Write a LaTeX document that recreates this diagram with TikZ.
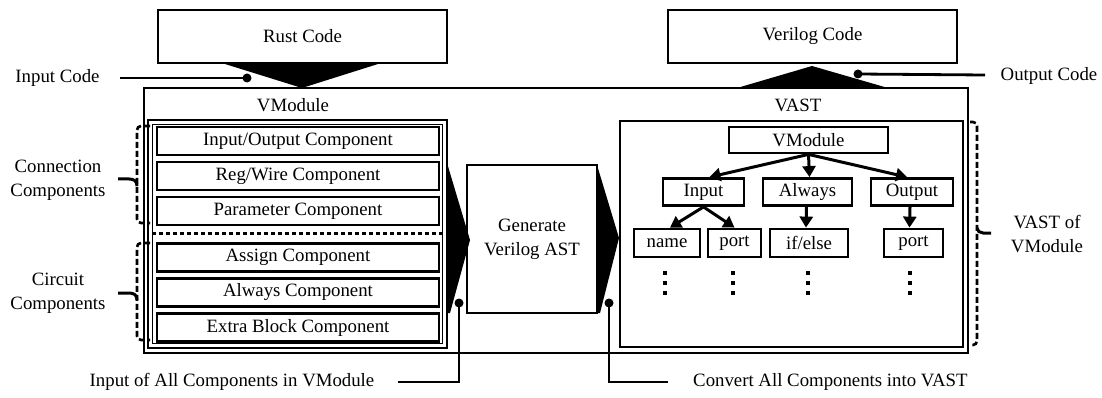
\documentclass[tikz,border=0pt]{standalone}
\usepackage{fontspec}
\setmainfont{Liberation Serif}
\usetikzlibrary{arrows.meta}
\begin{document}
\begin{tikzpicture}[x=1pt,y=-1pt,
  txt/.style={font=\fontsize{18.8}{24}\selectfont, inner sep=0pt, align=center},
  bigbox/.style={txt, draw, line width=2.5pt},
  comp/.style={txt, draw, line width=2.4pt, minimum width=282pt, minimum height=28pt},
  tbox/.style={txt, draw, line width=2.8pt, minimum height=27pt},
  conn/.style={line width=2.8pt},
  tarrow/.style={line width=3pt, -{Triangle[width=13pt,length=11pt]}},
  dbrace/.style={line width=2.6pt, dash pattern=on 6pt off 3pt, rounded corners=4pt},
  nubline/.style={line width=3pt},
  blk/.style={fill=black}
]
\useasboundingbox (0,0) rectangle (1102,398);

% top code boxes
\node[bigbox, minimum width=289pt, minimum height=53pt] (rust) at (302.5,36.5) {Rust Code};
\node[bigbox, minimum width=289pt, minimum height=53pt] (verilog) at (812.5,36.5) {Verilog Code};

% outer frame
\node[draw, line width=2.5pt, minimum width=824pt, minimum height=265pt, inner sep=0pt] (outer) at (556,220.5) {};
\node[txt] (vmlabel) at (293,105) {VModule};
\node[txt] (vastlabel) at (798,105) {VAST};

% funnels
\fill[blk] (225,64) -- (378,64) -- (302,88) -- cycle;
\fill[blk] (737,88) -- (888,88) -- (812,66) -- cycle;

% input / output code
\node[txt] (incode) at (57.5,78) {Input Code};
\coordinate (inA) at (120,78);
\coordinate (inDot) at (247,78);
\draw[conn] (inA) -- (inDot);
\fill (inDot) circle[radius=4.5pt];

\node[txt] (outcode) at (1049,76) {Output Code};
\coordinate (outDot) at (858,74);
\coordinate (outA) at (985,75);
\draw[conn] (outDot) -- (outA);
\fill (outDot) circle[radius=4.5pt];

% left container (double line)
\node[draw, line width=1.6pt, minimum width=299pt, minimum height=228pt, inner sep=0pt] (lcont) at (297.5,234) {};
\draw[line width=1.6pt] (152.5,124.5) rectangle (442.5,343.5);

% components
\node[comp] (c1) at (298,141) {Input/Output Component};
\node[comp] (c2) at (298,176) {Reg/Wire Component};
\node[comp] (c3) at (298,211) {Parameter Component};
\draw[line width=3pt, dash pattern=on 4pt off 3pt] (152,233) -- (443,233);
\node[comp] (c4) at (298,257.5) {Assign Component};
\node[comp] (c5) at (298,292.5) {Always Component};
\node[comp] (c6) at (298,327.5) {Extra Block Component};

% left braces
\draw[dbrace] (150,126) -- (137,126) -- (137,223) -- (150,223);
\draw[nubline] (118,179) -- (129,179) .. controls (134,179) and (137,181) .. (137,186);
\node[txt] (connlbl) at (58,180) {Connection\\Components};

\draw[dbrace] (150,243) -- (137,243) -- (137,340) -- (150,340);
\draw[nubline] (118,293) -- (129,293) .. controls (134,293) and (137,295) .. (137,300);
\node[txt] (circlbl) at (58,293.5) {Circuit\\Components};

% arrows into / out of generator
\fill[blk] (447,163) -- (470,240) -- (450,313) -- (447,313) -- cycle;
\node[bigbox, minimum width=130pt, minimum height=148pt] (gen) at (532,239) {Generate\\Verilog AST};
\fill[blk] (597,165) -- (619,238) -- (600,313) -- (597,313) -- cycle;

% bottom labels
\node[txt] (allin) at (232,382) {Input of All Components in VModule};
\coordinate (d1) at (459,303);
\coordinate (a1) at (398,382);
\draw[conn] (d1) |- (a1);
\fill (d1) circle[radius=4.5pt];

\node[txt, anchor=west] (conv) at (693,382) {Convert All Components into VAST};
\coordinate (d2) at (609,303);
\coordinate (a2) at (668,382);
\draw[conn] (d2) |- (a2);
\fill (d2) circle[radius=4.5pt];

% right container
\node[draw, line width=2.5pt, minimum width=343pt, minimum height=226pt, inner sep=0pt] (rcont) at (791.5,234) {};

% tree
\node[tbox, minimum width=159pt, minimum height=26pt] (tv) at (808.5,140) {VModule};
\node[tbox, minimum width=81pt] (tin) at (703.5,192) {Input};
\node[tbox, minimum width=89pt] (tal) at (807.5,192) {Always};
\node[tbox, minimum width=82pt] (tout) at (912,192) {Output};
\node[tbox, minimum width=66pt, minimum height=28pt] (tname) at (667,243) {name};
\node[tbox, minimum width=53pt, minimum height=28pt] (tport) at (734.5,243) {port};
\node[tbox, minimum width=78pt, minimum height=28pt] (tif) at (809,243) {if/else};
\node[tbox, minimum width=59pt, minimum height=28pt] (tport2) at (913.5,243) {port};

\draw[tarrow] (tv.south) -- ([xshift=6pt]tin.north);
\draw[tarrow] (tv.south) -- ([xshift=2pt]tal.north);
\draw[tarrow] (tv.south) -- ([xshift=-5pt]tout.north);
\draw[tarrow] (tin.south) -- ([xshift=3pt]tname.north);
\draw[tarrow] (tin.south) -- (tport.north);
\draw[tarrow] ([xshift=-1pt]tal.south) -- ([xshift=-3pt]tif.north);
\draw[tarrow] ([xshift=-2pt]tout.south) -- ([xshift=-4pt]tport2.north);

\foreach \x in {665,733,808,910}{
  \foreach \y in {273,283,293}{
    \fill (\x-2.2,\y-2.2) rectangle (\x+2.2,\y+2.2);
  }
}

% right brace
\draw[dbrace] (970,122) -- (977,122) -- (977,345) -- (970,345);
\draw[nubline] (977,228) .. controls (977,231) and (980,233) .. (983,233) -- (991,233);
\node[txt] (vastof) at (1047,234) {VAST of\\VModule};

\end{tikzpicture}
\end{document}
